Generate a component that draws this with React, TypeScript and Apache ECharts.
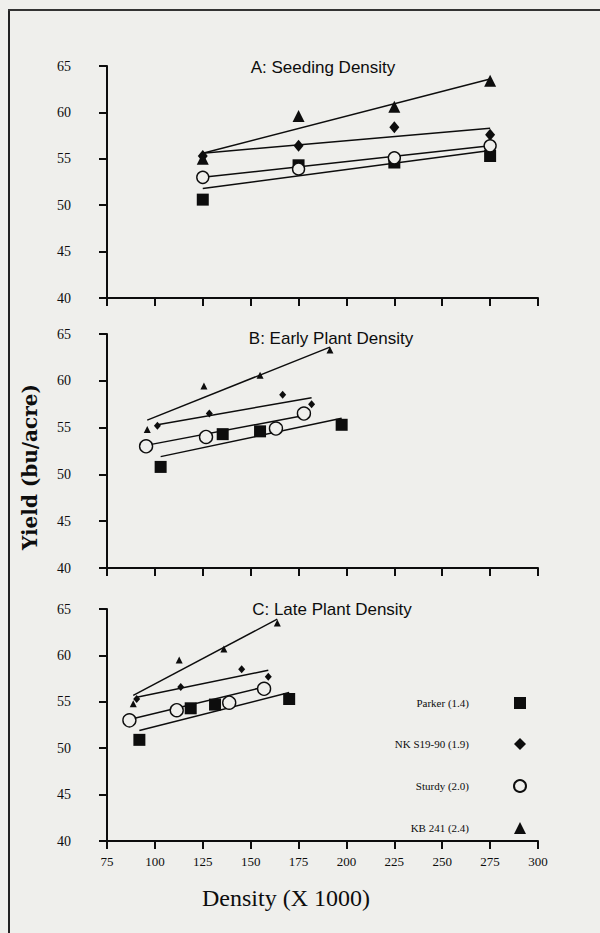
import React, { useEffect, useRef } from "react";
import * as echarts from "echarts";

// ---------- Data ----------
const cultivars = ["Parker (1.4)", "NK S19-90 (1.9)", "Sturdy (2.0)", "KB 241 (2.4)"];
const panelTitles = ["A: Seeding Density", "B: Early Plant Density", "C: Late Plant Density"];

// Panel A: seeding density (x1000)
const seedingDensity = [125, 175, 225, 275];
const parkerA = [50.6, 54.3, 54.6, 55.3];
const nkA = [55.3, 56.4, 58.4, 57.6];
const sturdyA = [53.0, 53.9, 55.1, 56.4];
const kbA = [55.0, 59.6, 60.6, 63.4];

// Panel B: early plant density
const parkerBx = [103, 135.4, 154.9, 197.5];
const parkerBy = [50.8, 54.3, 54.6, 55.3];
const nkBx = [101.3, 128.4, 166.7, 181.8];
const nkBy = [55.2, 56.5, 58.5, 57.5];
const sturdyBx = [95.4, 126.7, 163.2, 177.8];
const sturdyBy = [53.0, 54.0, 54.9, 56.5];
const kbBx = [96, 125.6, 154.9, 191.4];
const kbBy = [54.8, 59.45, 60.6, 63.3];

// Panel C: late plant density
const parkerCx = [91.9, 118.7, 131.4, 170.1];
const parkerCy = [50.9, 54.3, 54.7, 55.3];
const nkCx = [90.5, 113.5, 145.3, 159.2];
const nkCy = [55.3, 56.6, 58.5, 57.7];
const sturdyCx = [86.7, 111.4, 138.8, 157];
const sturdyCy = [53.0, 54.1, 54.9, 56.4];
const kbCx = [88.7, 112.7, 136, 163.9];
const kbCy = [54.8, 59.5, 60.7, 63.5];

// Trend line endpoints: [x0, x1], [y0, y1]
const trendAx = [[125, 275], [125, 275], [125, 275], [125, 275]];
const trendAy = [[51.8, 55.9], [55.6, 58.3], [53.0, 56.4], [55.6, 63.6]];
const trendBx = [[103, 197.5], [101.3, 181.8], [95.4, 177.8], [96, 191.4]];
const trendBy = [[51.9, 56.0], [55.3, 58.2], [53.1, 56.3], [55.8, 63.6]];
const trendCx = [[91.9, 170.1], [90.5, 159.2], [86.7, 157], [88.7, 163.9]];
const trendCy = [[51.9, 56.0], [55.5, 58.4], [53.1, 56.6], [55.7, 63.9]];

const xMin = 75, xMax = 300, xInterval = 25;
const yMin = 40, yMax = 65, yInterval = 5;

export default function App() {
  const ref = useRef<HTMLDivElement>(null);

  useEffect(() => {
    if (!ref.current) return;
    const chart = echarts.init(ref.current, null, { renderer: "svg" });
    const BG = "#efefec";
    const INK = "#0d0d0d";

    const panelsX = [
      [seedingDensity, seedingDensity, seedingDensity, seedingDensity],
      [parkerBx, nkBx, sturdyBx, kbBx],
      [parkerCx, nkCx, sturdyCx, kbCx],
    ];
    const panelsY = [
      [parkerA, nkA, sturdyA, kbA],
      [parkerBy, nkBy, sturdyBy, kbBy],
      [parkerCy, nkCy, sturdyCy, kbCy],
    ];
    const trendX = [trendAx, trendBx, trendCx];
    const trendY = [trendAy, trendBy, trendCy];

    const symbols = ["rect", "diamond", "circle", "triangle"];
    const sizesA: any[] = [12, [10, 12], 12, 12];
    const sizesBC: any[] = [12, [7, 8], 13, 7];

    const grids = [
      { left: 107, top: 66, width: 431, height: 232 },
      { left: 107, top: 334, width: 431, height: 234 },
      { left: 107, top: 609, width: 431, height: 232 },
    ];

    const axisLine = { show: true, onZero: false, lineStyle: { color: INK, width: 2 } };
    const axisTick = { show: true, inside: false, length: 8, lineStyle: { color: INK, width: 2 } };

    const xAxes = grids.map((_, i) => ({
      type: "value",
      gridIndex: i,
      min: xMin,
      max: xMax,
      interval: xInterval,
      axisLine,
      axisTick,
      splitLine: { show: false },
      axisLabel: {
        show: i === 2,
        margin: 14,
        color: INK,
        fontFamily: "Liberation Serif",
        fontSize: 13,
      },
    }));
    const yAxes = grids.map((_, i) => ({
      type: "value",
      gridIndex: i,
      min: yMin,
      max: yMax,
      interval: yInterval,
      axisLine,
      axisTick,
      splitLine: { show: false },
      axisLabel: {
        margin: 36,
        color: INK,
        fontFamily: "Liberation Serif",
        fontSize: 14,
      },
    }));

    const series: any[] = [];
    for (let p = 0; p < 3; p++) {
      for (let c = 0; c < 4; c++) {
        series.push({
          name: cultivars[c] + " trend " + p,
          type: "line",
          xAxisIndex: p,
          yAxisIndex: p,
          data: trendX[p][c].map((x, k) => [x, trendY[p][c][k]]),
          showSymbol: false,
          symbol: "none",
          lineStyle: { color: INK, width: 1.5 },
          z: 2,
          silent: true,
        });
      }
      for (let c = 0; c < 4; c++) {
        const hollow = symbols[c] === "circle";
        series.push({
          name: cultivars[c],
          type: "scatter",
          xAxisIndex: p,
          yAxisIndex: p,
          symbol: symbols[c],
          symbolSize: p === 0 ? sizesA[c] : sizesBC[c],
          data: panelsX[p][c].map((x, k) => [x, panelsY[p][c][k]]),
          itemStyle: hollow
            ? { color: BG, borderColor: INK, borderWidth: 1.4, opacity: 1 }
            : { color: INK, opacity: 1 },
          z: 3 + c,
        });
      }
    }

    const option: any = {
      animation: false,
      backgroundColor: BG,
      title: panelTitles.map((t, i) => ({
        text: t,
        left: [318, 326, 327][i],
        top: [54, 325, 596][i],
        textAlign: "center",
        textStyle: {
          fontFamily: "Liberation Sans",
          fontSize: 17,
          fontWeight: "normal",
          color: INK,
        },
      })),
      grid: grids,
      xAxis: xAxes,
      yAxis: yAxes,
      legend: {
        data: cultivars,
        orient: "vertical",
        align: "right",
        right: 68,
        top: 692,
        itemGap: 29,
        itemWidth: 12,
        itemHeight: 12,
        selectedMode: false,
        textStyle: {
          fontFamily: "Liberation Serif",
          fontSize: 11,
          color: INK,
          padding: [0, 40, 4, 0],
        },
      },
      graphic: [
        {
          type: "line",
          shape: { x1: 9, y1: 10, x2: 9, y2: 933 },
          style: { stroke: "#222", lineWidth: 2 },
        },
        {
          type: "line",
          shape: { x1: 8, y1: 10, x2: 600, y2: 10 },
          style: { stroke: "#333", lineWidth: 2 },
        },
        {
          type: "text",
          x: 30,
          y: 467,
          rotation: Math.PI / 2,
          style: {
            text: "Yield (bu/acre)",
            fontFamily: "DejaVu Serif",
            fontWeight: "bold",
            fontSize: 20,
            fill: INK,
            align: "center",
            verticalAlign: "middle",
          },
        },
        {
          type: "text",
          x: 286,
          y: 898,
          style: {
            text: "Density (X 1000)",
            fontFamily: "Liberation Serif",
            fontSize: 24,
            fill: INK,
            align: "center",
            verticalAlign: "middle",
          },
        },
      ],
      series,
    };

    chart.setOption(option);
    return () => chart.dispose();
  }, []);

  return (
    <div
      ref={ref}
      style={{ position: "absolute", left: 0, top: 0, width: 600, height: 933 }}
    />
  );
}
